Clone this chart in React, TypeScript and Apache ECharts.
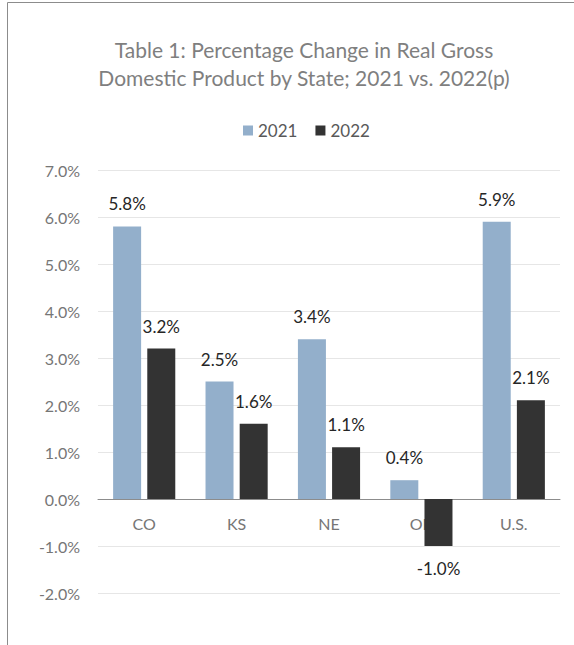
import React, { useEffect, useRef } from "react";
import * as echarts from "echarts";

const categories = ["CO", "KS", "NE", "OK", "U.S."];
const values2021 = [5.8, 2.5, 3.4, 0.4, 5.9];
const values2022 = [3.2, 1.6, 1.1, -1.0, 2.1];
const seriesNames = ["2021", "2022"];
const titleLines = [
  "Table 1: Percentage Change in Real Gross",
  "Domestic Product by State; 2021 vs. 2022(p)",
];

const FONT = "Lato";

export default function App() {
  const ref = useRef<HTMLDivElement>(null);
  useEffect(() => {
    if (!ref.current) return;
    const chart = echarts.init(ref.current, undefined, { renderer: "svg" });
    const mk = (vals: number[]) =>
      vals.map((v) => ({
        value: v,
        label: { position: v < 0 ? "bottom" : "top" },
      }));
    const labelStyle = {
      show: true,
      distance: 14,
      formatter: (p: any) => p.value.toFixed(1) + "%",
      color: "#262626",
      fontFamily: FONT,
      fontSize: 17,
    };
    chart.setOption({
      animation: false,
      backgroundColor: "#ffffff",
      textStyle: { fontFamily: FONT },
      title: {
        text: titleLines.join("\n"),
        left: 299,
        top: 30,
        textAlign: "center",
        textStyle: {
          fontFamily: FONT,
          fontSize: 21,
          fontWeight: "normal",
          color: "#7f7f7f",
          lineHeight: 28,
        },
      },
      legend: {
        data: seriesNames,
        left: 238,
        top: 117,
        itemWidth: 10,
        itemHeight: 10,
        itemGap: 18,
        icon: "rect",
        textStyle: { fontFamily: FONT, fontSize: 17, color: "#595959" },
      },
      grid: { left: 98, right: 14, top: 170, bottom: 52, containLabel: false },
      xAxis: {
        type: "category",
        data: categories,
        position: "bottom",
        offset: -94,
        axisLine: { onZero: false, lineStyle: { color: "#8c8c8c", width: 1 } },
        axisTick: { show: false },
        axisLabel: {
          margin: 16,
          color: "#767676",
          fontFamily: FONT,
          fontSize: 16,
        },
      },
      yAxis: {
        type: "value",
        min: -2,
        max: 7,
        interval: 1,
        axisLine: { show: false },
        axisTick: { show: false },
        splitLine: { lineStyle: { color: "#e6e6e6", width: 1 } },
        axisLabel: {
          margin: 18,
          color: "#767676",
          fontFamily: FONT,
          fontSize: 16,
          formatter: (v: number) => v.toFixed(1) + "%",
        },
      },
      series: [
        {
          name: seriesNames[0],
          type: "bar",
          data: mk(values2021),
          barWidth: 28,
          barGap: "22%",
          itemStyle: { color: "#93afcb" },
          label: labelStyle,
        },
        {
          name: seriesNames[1],
          type: "bar",
          data: mk(values2022),
          barWidth: 28,
          barGap: "22%",
          itemStyle: { color: "#333333" },
          label: labelStyle,
        },
      ],
      graphic: [
        {
          type: "line",
          shape: { x1: 7.5, y1: 2.5, x2: 574, y2: 2.5 },
          style: { stroke: "#8c8c8c", lineWidth: 1 },
        },
        {
          type: "line",
          shape: { x1: 7.5, y1: 2.5, x2: 7.5, y2: 645 },
          style: { stroke: "#8c8c8c", lineWidth: 1 },
        },
      ],
    });
    return () => chart.dispose();
  }, []);
  return (
    <div
      ref={ref}
      style={{ position: "fixed", left: 0, top: 0, width: 574, height: 645 }}
    />
  );
}
